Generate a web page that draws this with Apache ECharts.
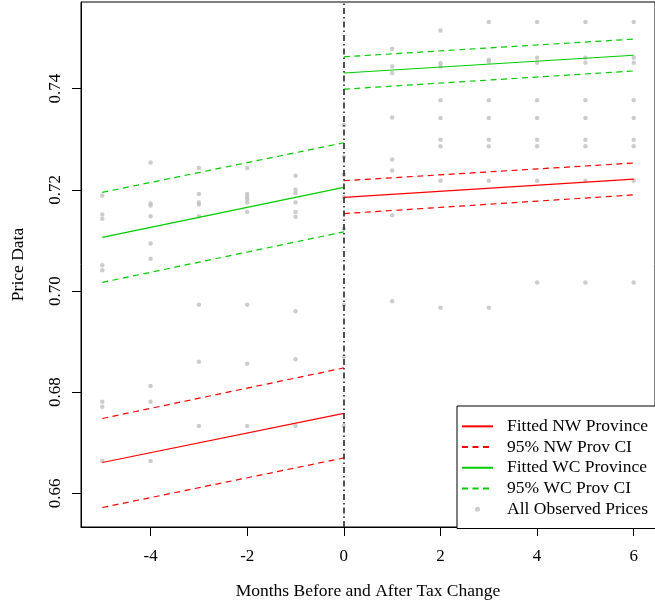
<!DOCTYPE html>
<html>
<head>
<meta charset="utf-8">
<script src="https://cdn.jsdelivr.net/npm/echarts@6.0.0/dist/echarts.min.js"></script>
<style>
  html, body { margin: 0; padding: 0; background: #fff; }
  #chart { width: 655px; height: 605px; }
</style>
</head>
<body>
<div id="chart"></div>
<script>
// months on each side of the tax change
const monthsBefore = [-5, 0];
const monthsAfter = [0, 6];

// fitted lines and 95% bands (value at the start and end of each segment)
const nwFitBefore = [0.6661, 0.6758];
const nwFitAfter = [0.7185, 0.7221];
const nwUpperBefore = [0.6748, 0.6848];
const nwLowerBefore = [0.6572, 0.6670];
const nwUpperAfter = [0.7218, 0.7253];
const nwLowerAfter = [0.7153, 0.7190];

const wcFitBefore = [0.7106, 0.7205];
const wcFitAfter = [0.7431, 0.7466];
const wcUpperBefore = [0.7195, 0.7293];
const wcLowerBefore = [0.7017, 0.7117];
const wcUpperAfter = [0.7463, 0.7498];
const wcLowerAfter = [0.7399, 0.7435];

// observed prices by month
const priceMonths = [-5, -4, -3, -2, -1, 0, 1, 2, 3, 4, 5, 6];
const pricesM5 = [0.7189, 0.7151, 0.7143, 0.7051, 0.7041, 0.6781, 0.6771, 0.6664];
const pricesM4 = [0.7254, 0.7173, 0.7169, 0.7148, 0.7094, 0.7064, 0.6812, 0.6781, 0.6664];
const pricesM3 = [0.7243, 0.7192, 0.7175, 0.7171, 0.7148, 0.6973, 0.6860, 0.6733];
const pricesM2 = [0.7243, 0.7192, 0.7186, 0.7181, 0.7175, 0.7156, 0.6973, 0.6856, 0.6733];
const pricesM1 = [0.7228, 0.7200, 0.7193, 0.7175, 0.7156, 0.7147, 0.6960, 0.6865, 0.6733];
const prices0 = [0.7328, 0.7265, 0.7230, 0.7186, 0.7123, 0.6972, 0.6870, 0.6733];
const pricesP1 = [0.7479, 0.7444, 0.7431, 0.7343, 0.7260, 0.7238, 0.7150, 0.6980];
const pricesP2 = [0.7515, 0.7450, 0.7444, 0.7377, 0.7342, 0.7299, 0.7286, 0.7218, 0.6967];
const pricesP3 = [0.7532, 0.7457, 0.7453, 0.7377, 0.7342, 0.7299, 0.7286, 0.7218, 0.6967];
const pricesP4 = [0.7532, 0.7461, 0.7451, 0.7377, 0.7342, 0.7299, 0.7286, 0.7218, 0.7017];
const pricesP5 = [0.7532, 0.7461, 0.7451, 0.7377, 0.7342, 0.7299, 0.7286, 0.7218, 0.7017];
const pricesP6 = [0.7532, 0.7461, 0.7451, 0.7377, 0.7342, 0.7299, 0.7286, 0.7218, 0.7017];

// axis ticks
const xTicks = [-4, -2, 0, 2, 4, 6];
const yTicks = [0.66, 0.68, 0.70, 0.72, 0.74];

const RED = '#ff0000';
const GREEN = '#00cc00';
const FONT = '"Liberation Serif", "DejaVu Serif", serif';
const DASH = [6, 4.5];
const NOSYM = 'rgba(0,0,0,0)';

function seg(xs, ys) {
  return xs.map((x, i) => [x, ys[i]]);
}

function lineSeries(name, data, color, dashed) {
  return {
    name: name,
    type: 'line',
    data: data,
    symbol: 'none',
    silent: true,
    z: 3,
    lineStyle: { color: color, width: 1.2, type: dashed ? DASH : 'solid' },
    itemStyle: { color: NOSYM }
  };
}

const allPrices = [pricesM5, pricesM4, pricesM3, pricesM2, pricesM1, prices0,
  pricesP1, pricesP2, pricesP3, pricesP4, pricesP5, pricesP6];
let pointData = [];
priceMonths.forEach((m, i) => {
  allPrices[i].forEach(v => pointData.push([m, v]));
});

const chart = echarts.init(document.getElementById('chart'), null, { renderer: 'canvas' });

const option = {
  animation: false,
  backgroundColor: '#fff',
  textStyle: { fontFamily: FONT, color: '#000' },
  grid: {
    left: 81, top: 2, right: -7, bottom: 77,
    show: true, borderColor: '#000', borderWidth: 1, backgroundColor: 'transparent'
  },
  legend: {
    left: 457,
    top: 406,
    orient: 'vertical',
    align: 'left',
    itemWidth: 31,
    itemHeight: 5,
    itemGap: 0,
    padding: [10, 40, 9, 4],
    borderColor: '#000',
    borderWidth: 1,
    backgroundColor: '#fff',
    selectedMode: false,
    textStyle: { fontFamily: FONT, fontSize: 17.5, color: '#000', lineHeight: 20.7, padding: [0, 0, 0, 9] },
    data: [
      { name: 'Fitted NW Province', itemStyle: { color: NOSYM, opacity: 0 } },
      { name: '95% NW Prov CI', itemStyle: { color: NOSYM, opacity: 0 } },
      { name: 'Fitted WC Province', itemStyle: { color: NOSYM, opacity: 0 } },
      { name: '95% WC Prov CI', itemStyle: { color: NOSYM, opacity: 0 } },
      { name: 'All Observed Prices' }
    ]
  },
  xAxis: {
    type: 'value',
    min: -5.44,
    max: 6.44,
    name: 'Months Before and After Tax Change',
    nameLocation: 'middle',
    nameGap: 55,
    nameTextStyle: { fontFamily: FONT, fontSize: 17.5, color: '#000' },
    splitLine: { show: false },
    axisLine: { show: true, onZero: false, lineStyle: { color: '#000', width: 1 } },
    axisTick: { show: true, length: 9, customValues: xTicks, lineStyle: { color: '#000' } },
    axisLabel: { customValues: xTicks, margin: 21, fontFamily: FONT, fontSize: 17, color: '#000' }
  },
  yAxis: {
    type: 'value',
    min: 0.65335,
    max: 0.75713,
    name: 'Price Data',
    nameLocation: 'middle',
    nameGap: 54,
    nameTextStyle: { fontFamily: FONT, fontSize: 17.5, color: '#000' },
    splitLine: { show: false },
    axisLine: { show: true, onZero: false, lineStyle: { color: '#000', width: 1 } },
    axisTick: { show: true, length: 9, customValues: yTicks, lineStyle: { color: '#000' } },
    axisLabel: {
      customValues: yTicks, rotate: 90, margin: 17,
      fontFamily: FONT, fontSize: 17, color: '#000',
      formatter: v => v.toFixed(2)
    }
  },
  series: [
    {
      name: 'All Observed Prices',
      type: 'scatter',
      data: pointData,
      symbol: 'circle',
      symbolSize: 4.5,
      silent: true,
      z: 1,
      itemStyle: { color: '#c0c0c0' },
      markLine: {
        silent: true,
        symbol: 'none',
        label: { show: false },
        z: 4,
        lineStyle: { color: '#333', width: 1.7, type: [6, 3, 1.5, 3] },
        data: [{ xAxis: 0 }]
      }
    },
    lineSeries('Fitted NW Province', seg(monthsBefore, nwFitBefore), RED, false),
    lineSeries('Fitted NW Province', seg(monthsAfter, nwFitAfter), RED, false),
    lineSeries('95% NW Prov CI', seg(monthsBefore, nwUpperBefore), RED, true),
    lineSeries('95% NW Prov CI', seg(monthsBefore, nwLowerBefore), RED, true),
    lineSeries('95% NW Prov CI', seg(monthsAfter, nwUpperAfter), RED, true),
    lineSeries('95% NW Prov CI', seg(monthsAfter, nwLowerAfter), RED, true),
    lineSeries('Fitted WC Province', seg(monthsBefore, wcFitBefore), GREEN, false),
    lineSeries('Fitted WC Province', seg(monthsAfter, wcFitAfter), GREEN, false),
    lineSeries('95% WC Prov CI', seg(monthsBefore, wcUpperBefore), GREEN, true),
    lineSeries('95% WC Prov CI', seg(monthsBefore, wcLowerBefore), GREEN, true),
    lineSeries('95% WC Prov CI', seg(monthsAfter, wcUpperAfter), GREEN, true),
    lineSeries('95% WC Prov CI', seg(monthsAfter, wcLowerAfter), GREEN, true)
  ]
};

chart.setOption(option);
</script>
</body>
</html>
